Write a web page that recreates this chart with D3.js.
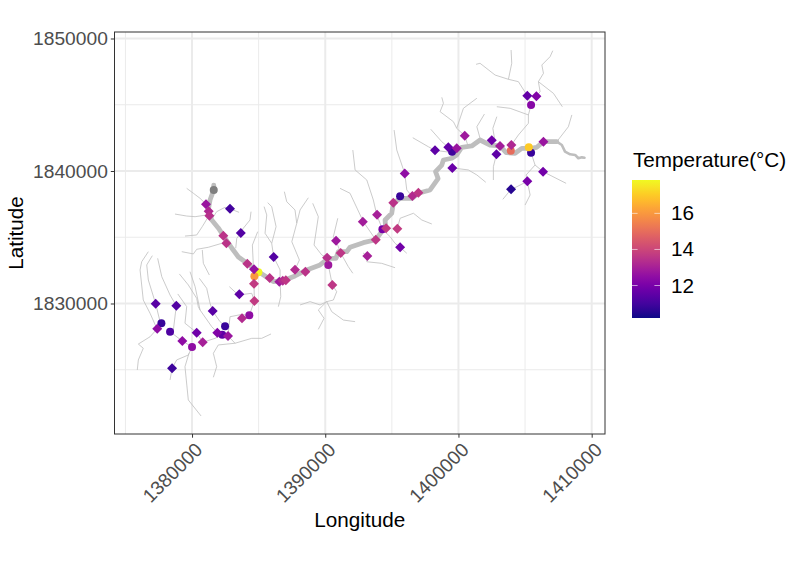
<!DOCTYPE html>
<html>
<head>
<meta charset="utf-8">
<script src="https://d3js.org/d3.v7.min.js"></script>
<style>
    body { margin: 0; background: #fff; font-family: "Liberation Sans", Arial, sans-serif; }
    .axis path, .axis line { stroke: #333; }
    .axis text { fill: #4d4d4d; font-size: 19.2px; font-family: "Liberation Sans", Arial, sans-serif; }
    .title { fill: #000; font-size: 20.7px; }
</style>
</head>
<body>
<svg id="chart" width="796" height="565"></svg>
<script>
// All coordinates are in thousands of map units (longitude, latitude)
const xMajor = [1380, 1390, 1400, 1410];
const xMinor = [1375, 1385, 1395, 1405];
const yMajor = [1830, 1840, 1850];
const yMinor = [1825, 1835, 1845];
const legendTicks = [12, 14, 16];

// Main stem of the river
const riverMain = [[1381.63,1838.94],[1381.63,1838.57],[1381.35,1837.81],[1381.22,1837.06],[1381.48,1836.30],[1381.97,1835.70],
    [1382.48,1834.94],[1382.98,1834.19],[1383.48,1833.51],[1384.11,1833.06],[1384.68,1832.60],[1385.48,1832.08],[1386.10,1831.65],
    [1386.83,1831.72],[1387.73,1832.08],[1388.61,1832.53],[1389.61,1832.91],[1390.23,1833.41],[1390.81,1833.41],[1390.98,1833.91],
    [1391.61,1833.91],[1391.86,1834.24],[1392.86,1834.59],[1393.79,1834.81],[1394.24,1835.42],[1394.54,1835.68],[1394.49,1836.30],
    [1394.99,1836.81],[1395.11,1837.56],[1395.62,1837.94],[1396.54,1837.94],[1396.99,1838.32],[1397.87,1838.57],[1398.47,1839.43],
    [1398.28,1839.95],[1398.75,1840.45],[1398.87,1840.83],[1399.50,1840.96],[1399.87,1841.21],[1400.25,1841.79],[1401.00,1841.89],
    [1401.62,1842.34],[1402.37,1841.96],[1403.12,1841.89],[1403.58,1841.38],[1404.25,1841.34],[1404.75,1841.71],[1405.38,1841.71],
    [1405.88,1841.79],[1406.38,1842.21],[1407.38,1842.21]];
const riverEnd = [[1407.38,1842.21],[1407.76,1841.96],[1408.00,1841.46],[1408.38,1841.26],[1408.76,1841.21],[1409.00,1840.96],
    [1409.26,1841.03],[1409.46,1841.00]];

const tributaries = [
    [[1379.60,1838.69],[1380.10,1838.32],[1380.60,1837.94],[1381.05,1837.49]],
    [[1378.72,1836.75],[1379.60,1836.60],[1380.23,1836.55],[1381.10,1836.68]],
    [[1379.47,1835.09],[1380.35,1835.17],[1380.77,1835.80],[1381.22,1836.55]],
    [[1381.48,1836.35],[1381.85,1836.93],[1382.48,1837.26],[1382.85,1837.15],[1383.53,1836.88]],
    [[1384.43,1836.93],[1384.35,1836.30],[1383.85,1835.68],[1383.66,1835.32],[1383.36,1834.92],[1383.28,1834.17]],
    [[1379.23,1833.91],[1380.10,1833.74],[1380.35,1834.09],[1381.22,1834.24],[1382.23,1834.54]],
    [[1380.77,1834.04],[1380.85,1833.03],[1381.30,1832.15]],
    [[1384.93,1835.42],[1384.53,1834.41],[1384.60,1832.91]],
    [[1385.68,1837.61],[1385.98,1837.31],[1386.31,1835.80],[1385.98,1834.54],[1386.13,1833.51],[1386.61,1832.53],[1386.61,1831.65]],
    [[1385.41,1837.31],[1385.61,1836.68],[1385.48,1835.30],[1385.98,1834.54]],
    [[1386.61,1831.65],[1386.66,1830.51],[1386.48,1829.76]],
    [[1376.72,1833.91],[1376.22,1833.15],[1376.10,1832.53],[1376.34,1830.26],[1376.85,1829.26],[1377.35,1828.13]],
    [[1377.02,1833.61],[1376.60,1832.91],[1376.72,1831.77],[1377.27,1829.98],[1377.60,1828.63]],
    [[1377.42,1833.41],[1377.73,1832.02],[1378.35,1830.64],[1378.82,1829.83],[1378.60,1828.00]],
    [[1377.35,1828.05],[1376.85,1827.49],[1375.97,1826.94],[1376.34,1826.62],[1375.97,1825.74],[1375.89,1824.98]],
    [[1378.35,1827.87],[1379.27,1827.17],[1380.00,1826.72]],
    [[1378.93,1830.72],[1379.60,1829.76],[1379.47,1828.51],[1380.35,1827.80],[1380.80,1827.07]],
    [[1379.05,1832.23],[1379.72,1831.40],[1380.35,1830.39],[1380.47,1829.76],[1380.60,1829.51]],
    [[1379.85,1832.40],[1380.23,1831.27],[1380.60,1829.51],[1381.48,1828.25],[1381.90,1827.80]],
    [[1380.55,1831.90],[1381.10,1831.15],[1381.35,1830.02],[1381.55,1829.43],[1382.10,1828.63],[1382.48,1828.28]],
    [[1380.80,1827.07],[1381.73,1827.37],[1382.27,1827.65]],
    [[1382.70,1827.55],[1382.85,1829.00],[1383.75,1829.18],[1384.30,1829.11]],
    [[1384.30,1829.11],[1384.68,1830.19],[1384.48,1830.77],[1383.48,1830.64],[1382.80,1831.27]],
    [[1384.68,1830.19],[1384.65,1831.49]],
    [[1381.60,1824.43],[1381.85,1825.23],[1381.60,1826.24],[1381.97,1826.87],[1383.23,1827.00],[1384.48,1827.37],[1385.23,1827.37],[1385.93,1827.70]],
    [[1382.70,1827.55],[1383.23,1827.00]],
    [[1380.00,1826.72],[1379.72,1826.11],[1378.85,1825.74],[1378.50,1825.11],[1378.35,1824.23]],
    [[1379.77,1826.24],[1379.47,1825.23],[1379.72,1822.72],[1380.68,1821.51]],
    [[1388.73,1837.98],[1388.11,1837.06],[1387.86,1836.05],[1387.49,1834.66],[1388.06,1833.28],[1387.73,1832.55]],
    [[1386.93,1838.44],[1387.11,1837.68],[1387.73,1837.06],[1387.86,1836.05]],
    [[1389.06,1837.56],[1389.48,1836.55],[1389.16,1834.41],[1389.74,1833.66],[1390.14,1833.46]],
    [[1392.07,1841.58],[1392.24,1840.08],[1393.12,1839.32],[1393.61,1837.81],[1393.87,1836.68],[1394.29,1835.60]],
    [[1391.11,1838.69],[1391.86,1838.32],[1392.86,1836.17],[1393.79,1834.81]],
    [[1390.94,1836.43],[1390.61,1835.04],[1390.81,1834.74],[1391.16,1833.81],[1391.73,1832.78],[1392.07,1832.28]],
    [[1390.23,1832.91],[1390.53,1831.40],[1390.86,1830.89],[1390.61,1830.26],[1390.11,1830.14]],
    [[1388.11,1829.89],[1388.86,1830.14],[1389.61,1829.89],[1390.11,1830.14]],
    [[1390.11,1830.14],[1389.48,1829.51],[1389.91,1828.88],[1389.48,1828.05]],
    [[1390.11,1830.14],[1390.49,1829.38],[1391.36,1828.75],[1392.24,1828.63]],
    [[1392.84,1833.81],[1393.16,1833.58],[1393.12,1833.15],[1394.24,1833.03],[1395.24,1832.70]],
    [[1394.29,1835.60],[1394.87,1835.04],[1395.24,1834.54],[1395.62,1834.24],[1396.12,1833.79]],
    [[1395.41,1835.65],[1395.62,1836.43],[1396.62,1836.81],[1397.25,1836.30],[1398.00,1836.00]],
    [[1395.17,1843.09],[1395.37,1841.58],[1395.97,1839.81],[1396.12,1838.57],[1396.50,1838.11]],
    [[1396.57,1842.51],[1397.74,1841.83],[1398.24,1841.56],[1399.37,1841.41]],
    [[1397.92,1843.15],[1398.75,1842.21],[1399.24,1841.79]],
    [[1398.75,1845.56],[1398.87,1845.11],[1398.62,1844.48],[1399.62,1843.72],[1399.87,1843.22],[1400.47,1842.66],[1400.74,1841.83]],
    [[1401.38,1845.49],[1400.37,1844.73],[1399.87,1843.22]],
    [[1401.95,1844.30],[1401.38,1843.34],[1401.62,1842.47]],
    [[1402.88,1844.10],[1402.58,1843.22],[1402.75,1842.21]],
    [[1399.54,1840.23],[1400.74,1840.08],[1401.38,1839.70],[1402.05,1839.15]],
    [[1402.85,1841.26],[1402.62,1840.32],[1402.62,1839.32]],
    [[1405.25,1844.23],[1405.25,1843.60],[1404.50,1842.72],[1403.97,1841.96]],
    [[1402.88,1844.85],[1403.88,1844.73],[1405.25,1844.23],[1405.45,1844.98]],
    [[1405.45,1844.98],[1405.17,1845.68],[1404.50,1846.74],[1403.75,1846.92],[1402.75,1847.24],[1401.62,1848.13],[1401.32,1848.05]],
    [[1403.75,1846.92],[1404.00,1848.13],[1403.95,1849.13]],
    [[1405.85,1845.64],[1406.13,1845.98],[1406.00,1846.74],[1406.38,1847.37],[1406.26,1848.00],[1406.88,1848.63],[1407.08,1849.08]],
    [[1406.00,1846.74],[1407.13,1845.86],[1407.80,1844.85]],
    [[1405.45,1841.38],[1405.75,1840.45],[1406.35,1839.95],[1408.08,1839.07]],
    [[1405.75,1840.45],[1405.08,1839.70],[1405.17,1839.22],[1405.38,1838.19],[1405.00,1837.43]],
    [[1405.17,1839.22],[1404.38,1838.81],[1403.95,1838.62],[1403.33,1837.86]],
    [[1407.38,1842.21],[1408.25,1843.34],[1408.51,1844.23]]
];

// Sites without a temperature reading
const noDataSites = [[1381.63,1838.57]];

// Sites as [lon, lat, temperature]
const circleSites = [
    [1384.98,1832.35,17.8],[1384.68,1832.05,16],[1384.30,1829.11,12.5],[1377.70,1828.51,10.8],[1378.35,1827.87,11.2],
    [1380.00,1826.72,12.5],[1382.48,1828.28,10.8],[1382.27,1827.65,11.5],[1390.23,1832.91,12.8],[1394.29,1835.60,12],
    [1395.62,1838.09,10.8],[1399.52,1841.46,10.9],[1403.93,1841.53,15],[1405.45,1841.38,10.8],[1405.28,1841.79,17],
    [1405.45,1844.98,12.3]
];
const diamondSites = [
    [1381.05,1837.49,12.7],[1381.25,1836.96,13.2],[1381.30,1836.63,13.4],[1382.85,1837.15,11.0],[1383.66,1835.32,11.3],
    [1382.35,1835.12,13.5],[1382.58,1834.54,13.5],[1384.15,1833.00,13.5],[1384.65,1832.58,12.6],[1384.65,1831.49,13.7],
    [1385.83,1831.92,13.5],[1386.13,1833.51,11.3],[1386.55,1831.65,12.8],[1386.81,1831.72,13.3],[1387.04,1831.75,13.6],
    [1383.55,1830.69,11.5],[1384.68,1830.19,13.7],[1383.75,1828.88,13.3],[1381.55,1829.43,11.4],[1377.27,1829.98,11.4],
    [1378.82,1829.83,11.3],[1377.39,1828.10,12.5],[1379.27,1827.17,12.5],[1380.35,1827.80,11.8],[1380.80,1827.07,13],
    [1381.90,1827.80,12.2],[1382.70,1827.55,12.7],[1378.50,1825.11,10.9],[1387.73,1832.55,13.3],[1388.51,1832.40,13.5],
    [1390.14,1833.46,13.4],[1390.81,1834.74,12.8],[1391.16,1833.81,13.6],[1390.53,1831.40,13.6],[1393.16,1833.58,13],
    [1392.82,1836.17,12.9],[1393.89,1836.70,13],[1393.79,1834.81,13.6],[1394.57,1835.68,13.7],[1395.41,1835.65,13.7],
    [1395.62,1834.24,11.9],[1395.11,1837.61,13.5],[1395.97,1839.81,12.5],[1396.54,1838.11,13.3],[1396.99,1838.36,13.6],
    [1398.24,1841.56,11.5],[1399.24,1841.79,11.6],[1399.87,1841.71,12.7],[1399.54,1840.23,11.7],[1400.47,1842.66,12.8],
    [1402.50,1842.32,11.8],[1403.12,1841.89,12.9],[1402.85,1841.26,11.5],[1403.97,1841.96,13.2],[1406.38,1842.21,12.7],
    [1406.35,1839.95,11.9],[1405.17,1839.22,12],[1403.95,1838.62,10.5],[1405.17,1845.68,11.6],[1405.85,1845.64,12.2]
];

const margin = {top: 32, right: 191, bottom: 131, left: 114.5};
const width = 796 - margin.left - margin.right;
const height = 565 - margin.top - margin.bottom;

const xScale = d3.scaleLinear().domain([1374.18, 1411.0]).range([0, width]);
const yScale = d3.scaleLinear().domain([1820.15, 1850.49]).range([height, 0]);
const colorScale = d3.scaleSequential(d3.interpolatePlasma).domain([10.2, 17.85]);

const svg = d3.select('#chart');
const chart = svg.append('g').attr('transform', `translate(${margin.left},${margin.top})`);

// Grid lines, minor first
const grid = chart.append('g');
const addGrid = (vals, sw) => {
    grid.selectAll(null).data(vals).join('line')
        .attr('x1', d => xScale(d)).attr('x2', d => xScale(d))
        .attr('y1', 0).attr('y2', height)
        .attr('stroke', '#ebebeb').attr('stroke-width', sw);
};
const addGridY = (vals, sw) => {
    grid.selectAll(null).data(vals).join('line')
        .attr('y1', d => yScale(d)).attr('y2', d => yScale(d))
        .attr('x1', 0).attr('x2', width)
        .attr('stroke', '#ebebeb').attr('stroke-width', sw);
};
addGrid(xMinor, 1);
addGridY(yMinor, 1);
addGrid(xMajor, 2);
addGridY(yMajor, 2);

// River network
const line = d3.line().x(d => xScale(d[0])).y(d => yScale(d[1])).curve(d3.curveLinear);

chart.append('g').selectAll('path').data(tributaries).join('path')
    .attr('d', line)
    .attr('fill', 'none')
    .attr('stroke', '#bebebe')
    .attr('stroke-width', 0.8);

chart.append('path').datum(riverEnd)
    .attr('d', line).attr('fill', 'none').attr('stroke', '#bebebe')
    .attr('stroke-width', 2.6).attr('stroke-linejoin', 'round').attr('stroke-linecap', 'round');

chart.append('path').datum(riverMain)
    .attr('d', line).attr('fill', 'none').attr('stroke', '#bebebe')
    .attr('stroke-width', 4.8).attr('stroke-linejoin', 'round').attr('stroke-linecap', 'round');

// Sites
chart.append('g').selectAll('circle').data(noDataSites).join('circle')
    .attr('cx', d => xScale(d[0])).attr('cy', d => yScale(d[1])).attr('r', 4)
    .attr('fill', '#7f7f7f');

chart.append('g').selectAll('circle').data(circleSites).join('circle')
    .attr('cx', d => xScale(d[0])).attr('cy', d => yScale(d[1])).attr('r', 4)
    .attr('fill', d => colorScale(d[2]));

const diamond = d3.symbol().type(d3.symbolSquare).size(50);
chart.append('g').selectAll('path').data(diamondSites).join('path')
    .attr('d', diamond)
    .attr('transform', d => `translate(${xScale(d[0])},${yScale(d[1])}) rotate(45)`)
    .attr('fill', d => colorScale(d[2]));

// Panel border
chart.append('rect')
    .attr('width', width).attr('height', height)
    .attr('fill', 'none').attr('stroke', '#333').attr('stroke-width', 1);

// Axes
const xAxis = d3.axisBottom(xScale).tickValues(xMajor).tickFormat(d => d * 1000).tickSize(3.7).tickSizeOuter(0);
const yAxis = d3.axisLeft(yScale).tickValues(yMajor).tickFormat(d => d * 1000).tickSize(3.7).tickSizeOuter(0);

const xAxisG = chart.append('g').attr('class', 'axis').attr('transform', `translate(0,${height})`).call(xAxis);
xAxisG.select('.domain').remove();
xAxisG.selectAll('text')
    .attr('text-anchor', 'end')
    .attr('dx', 0).attr('dy', 0).attr('x', 0).attr('y', 0)
    .attr('transform', 'translate(11,17) rotate(-45)');

const yAxisG = chart.append('g').attr('class', 'axis').call(yAxis);
yAxisG.select('.domain').remove();

// Axis titles
svg.append('text').attr('class', 'title')
    .attr('x', margin.left + width / 2).attr('y', 527).attr('text-anchor', 'middle').text('Longitude');
svg.append('text').attr('class', 'title')
    .attr('transform', `translate(23,${margin.top + height / 2}) rotate(-90)`)
    .attr('text-anchor', 'middle').text('Latitude');

// Colour bar legend
const barX = 632, barY = 180, barW = 28, barH = 138;
const legendScale = d3.scaleLinear().domain(colorScale.domain()).range([barY + barH, barY]);

const defs = svg.append('defs');
const gradient = defs.append('linearGradient').attr('id', 'temp-grad')
    .attr('x1', 0).attr('x2', 0).attr('y1', 1).attr('y2', 0);
gradient.selectAll('stop').data(d3.range(0, 1.001, 0.05)).join('stop')
    .attr('offset', d => d)
    .attr('stop-color', d => d3.interpolatePlasma(d));

svg.append('rect')
    .attr('x', barX).attr('y', barY).attr('width', barW).attr('height', barH)
    .attr('fill', 'url(#temp-grad)');

const legendG = svg.append('g');
legendTicks.forEach(t => {
    const y = legendScale(t);
    legendG.append('line').attr('x1', barX).attr('x2', barX + barW / 5).attr('y1', y).attr('y2', y)
        .attr('stroke', '#fff').attr('stroke-width', 0.6);
    legendG.append('line').attr('x1', barX + barW * 4 / 5).attr('x2', barX + barW).attr('y1', y).attr('y2', y)
        .attr('stroke', '#fff').attr('stroke-width', 0.6);
    legendG.append('text').attr('x', 671).attr('y', y + 7)
        .attr('font-size', 20.7).text(t);
});

svg.append('text').attr('class', 'title')
    .attr('x', 633).attr('y', 167).text('Temperature(°C)');
</script>
</body>
</html>
